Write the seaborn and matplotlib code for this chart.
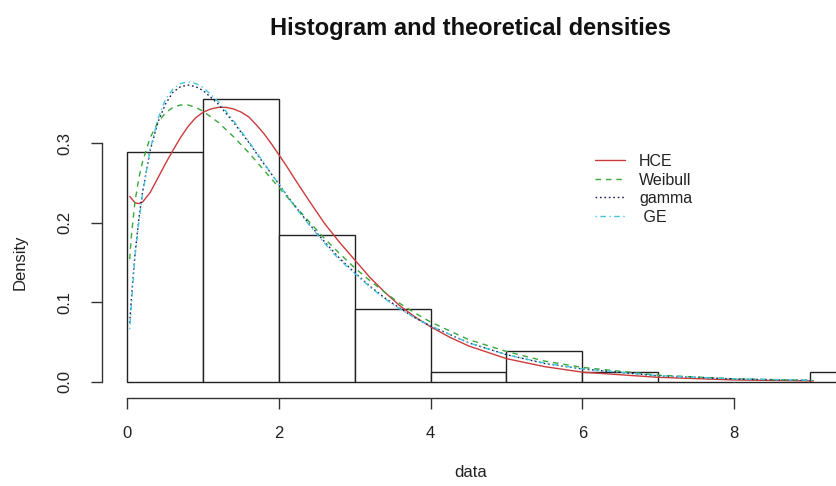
import matplotlib
matplotlib.use("Agg")
import matplotlib.pyplot as plt
import seaborn as sns

# ---------------- data ----------------
bin_edges = [0, 1, 2, 3, 4, 5, 6, 7, 8, 9, 10]
bin_density = [0.289, 0.356, 0.185, 0.092, 0.0126, 0.039, 0.0126, 0.0, 0.0, 0.0126]

curve_x = [0.03, 0.05, 0.1, 0.15, 0.2, 0.3, 0.4, 0.5, 0.6, 0.7, 0.8, 0.9, 1.0,
           1.2, 1.4, 1.6, 1.8, 2.0, 2.2, 2.4, 2.6, 2.8, 3.0, 3.2, 3.4, 3.6,
           3.8, 4.0, 4.5, 5.0, 5.5, 6.0, 7.0, 8.0, 9.05]
gamma_y = [0.074, 0.103, 0.161, 0.205, 0.239, 0.291, 0.326, 0.349, 0.364, 0.371,
           0.373, 0.371, 0.366, 0.349, 0.326, 0.301, 0.274, 0.248, 0.222, 0.198,
           0.176, 0.155, 0.137, 0.120, 0.105, 0.092, 0.080, 0.070, 0.049, 0.034,
           0.023, 0.016, 0.0074, 0.0034, 0.0015]
weibull_y = [0.154, 0.182, 0.227, 0.256, 0.277, 0.307, 0.326, 0.338, 0.345, 0.348,
             0.348, 0.345, 0.340, 0.326, 0.308, 0.288, 0.266, 0.244, 0.222, 0.201,
             0.180, 0.161, 0.143, 0.127, 0.112, 0.098, 0.086, 0.075, 0.053, 0.038,
             0.026, 0.018, 0.0082, 0.0037, 0.0016]
ge_y = [0.066, 0.095, 0.158, 0.200, 0.237, 0.292, 0.330, 0.355, 0.368, 0.375,
        0.377, 0.375, 0.370, 0.352, 0.328, 0.302, 0.275, 0.248, 0.221, 0.197,
        0.174, 0.153, 0.136, 0.119, 0.104, 0.091, 0.080, 0.070, 0.049, 0.034,
        0.0235, 0.0162, 0.0076, 0.0036, 0.0017]

hce_x = [0.03, 0.1, 0.15, 0.2, 0.3, 0.4, 0.5, 0.6, 0.7, 0.8, 0.9, 1.0, 1.1, 1.2,
         1.3, 1.4, 1.5, 1.6, 1.7, 1.8, 1.9, 2.0, 2.1, 2.2, 2.4, 2.6, 2.8, 3.0,
         3.2, 3.4, 3.6, 3.8, 4.0, 4.25, 4.5, 5.0, 5.5, 6.0, 7.0, 8.0, 9.05]
hce_y = [0.233, 0.225, 0.224, 0.226, 0.238, 0.256, 0.274, 0.291, 0.307, 0.321,
         0.332, 0.339, 0.343, 0.345, 0.345, 0.343, 0.339, 0.333, 0.323, 0.312,
         0.299, 0.285, 0.271, 0.256, 0.227, 0.199, 0.175, 0.153, 0.131, 0.112,
         0.095, 0.081, 0.069, 0.056, 0.045, 0.029, 0.019, 0.012, 0.0055, 0.0022,
         0.0009]

legend_labels = ["HCE", "Weibull", "gamma", " GE"]
x_ticks = [0, 2, 4, 6, 8]
y_ticks = [0.0, 0.1, 0.2, 0.3]
title_text = "Histogram and theoretical densities"
x_label = "data"
y_label = "Density"

# ---------------- styling ----------------
sns.set_theme(style="white")
plt.rcParams["font.family"] = ["Liberation Sans", "DejaVu Sans"]

W, H = 836, 486
fig = plt.figure(figsize=(W / 100, H / 100), dpi=100)
fig.patch.set_facecolor("white")
# plot region in pixels: left 101.7, right ~843 (beyond the figure edge),
# top 133.6, bottom 398
ax = fig.add_axes([101.7 / W, (H - 398) / H, 741.3 / W, 264.4 / H])
ax.set_facecolor("white")

mids = [(a + b) / 2 for a, b in zip(bin_edges[:-1], bin_edges[1:])]
sns.histplot(x=mids, weights=bin_density, bins=bin_edges, stat="count",
             ax=ax, facecolor="white", edgecolor="#222222", linewidth=1.0,
             alpha=1.0)
for p in ax.patches:
    p.set_clip_on(False)

curves = [
    (hce_x, hce_y, "#cc3b3b", "-"),
    (curve_x, weibull_y, "#3aa83a", (0, (4, 3.5))),
    (curve_x, gamma_y, "#1b1b55", (0, (1.2, 2.0))),
    (curve_x, ge_y, "#45c6e0", (0, (1, 2.5, 4, 2.5))),
]
handles = []
for xs, ys, col, ls in curves:
    n_before = len(ax.lines)
    sns.lineplot(x=xs, y=ys, ax=ax, color=col, linewidth=1.0, sort=False,
                 estimator=None)
    line = ax.lines[n_before]
    line.set_linestyle(ls)
    line.set_clip_on(False)
    handles.append(line)

if ax.get_legend() is not None:
    ax.get_legend().remove()

ax.set_xlim(-0.34, 9.44)
ax.set_ylim(-0.0205, 0.312)
ax.set_xlabel("")
ax.set_ylabel("")

for s in ["top", "right"]:
    ax.spines[s].set_visible(False)
for s in ["left", "bottom"]:
    ax.spines[s].set_color("#333333")
    ax.spines[s].set_linewidth(1.0)
ax.spines["left"].set_bounds(0, 0.3)
ax.spines["bottom"].set_bounds(0, 8)

ax.set_xticks(x_ticks)
ax.set_xticklabels([str(t) for t in x_ticks], fontsize=12, color="#222222")
ax.set_yticks(y_ticks)
ax.set_yticklabels([f"{t:.1f}" for t in y_ticks], fontsize=12,
                   rotation=90, va="center", color="#222222")
ax.tick_params(axis="both", direction="out", length=8, width=1.0,
               color="#333333", left=True, bottom=True)
ax.tick_params(axis="x", pad=12)
ax.tick_params(axis="y", pad=13)
ax.grid(False)

leg = fig.legend(handles, legend_labels, loc="upper left",
                 bbox_to_anchor=(595 / W, 1 - 154 / H), frameon=False,
                 fontsize=11.5, handlelength=1.9, handletextpad=0.85,
                 labelspacing=0.22, borderpad=0, borderaxespad=0)
for t in leg.get_texts():
    t.set_color("#222222")

fig.text(471 / W, 1 - 35 / H, title_text, ha="center", va="baseline",
         fontsize=17, fontweight="bold", color="#111111")
fig.text(471 / W, 1 - 472 / H, x_label, ha="center", va="center",
         fontsize=12, color="#222222")
fig.text(20 / W, 1 - 262 / H, y_label, ha="center", va="center",
         fontsize=12, rotation=90, color="#222222")

fig.savefig("out.png", dpi=100, facecolor="white")
